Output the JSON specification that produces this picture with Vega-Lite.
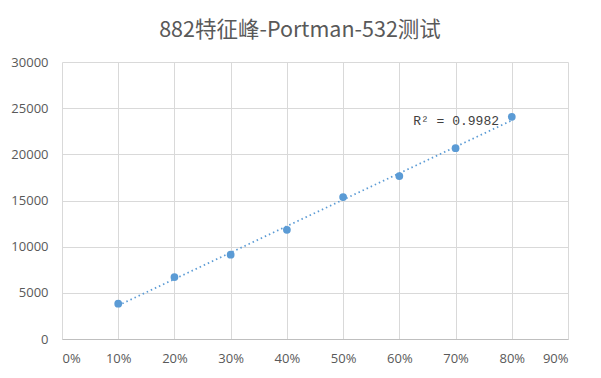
{
  "$schema": "https://vega.github.io/schema/vega-lite/v6.json",
  "autosize": "none",
  "width": 506,
  "height": 277,
  "padding": {"left": 62, "top": 62, "right": 33, "bottom": 39},
  "background": "white",
  "title": {
    "text": "882特征峰-Portman-532测试",
    "font": "Noto Sans CJK SC",
    "fontSize": 21.5,
    "fontWeight": "normal",
    "color": "#595959",
    "anchor": "middle",
    "dx": -15,
    "offset": 15
  },
  "data": {
    "values": [
      {"x": 0.1, "y": 3820},
      {"x": 0.2, "y": 6710},
      {"x": 0.3, "y": 9125},
      {"x": 0.4, "y": 11830},
      {"x": 0.5, "y": 15370},
      {"x": 0.6, "y": 17640},
      {"x": 0.7, "y": 20670},
      {"x": 0.8, "y": 24060}
    ]
  },
  "config": {
    "view": {"stroke": null},
    "axis": {
      "labelFont": "Open Sans",
      "labelFontSize": 13,
      "labelColor": "#595959",
      "gridColor": "#d9d9d9",
      "gridWidth": 1,
      "ticks": false,
      "title": null
    }
  },
  "layer": [
    {
      "transform": [{"regression": "y", "on": "x"}],
      "mark": {"type": "line", "color": "#5B9BD5", "strokeWidth": 1.75, "strokeDash": [1.5, 3]},
      "encoding": {
        "x": {"field": "x", "type": "quantitative"},
        "y": {"field": "y", "type": "quantitative"}
      }
    },
    {
      "mark": {"type": "circle", "color": "#5B9BD5", "size": 60, "opacity": 1},
      "encoding": {
        "x": {
          "field": "x",
          "type": "quantitative",
          "scale": {"domain": [0, 0.9], "nice": false},
          "axis": {
            "values": [0, 0.1, 0.2, 0.3, 0.4, 0.5, 0.6, 0.7, 0.8, 0.9],
            "format": ".0%",
            "labelPadding": 13,
            "domainColor": "#bfbfbf",
            "grid": true
          }
        },
        "y": {
          "field": "y",
          "type": "quantitative",
          "scale": {"domain": [0, 30000], "nice": false},
          "axis": {
            "values": [0, 5000, 10000, 15000, 20000, 25000, 30000],
            "format": "d",
            "labelPadding": 14,
            "domain": false,
            "grid": true
          }
        }
      }
    },
    {
      "data": {"values": [{"x": 0.701, "y": 23600, "label": "R² = 0.9982"}]},
      "mark": {"type": "text", "font": "Liberation Mono", "fontSize": 13, "color": "#404040", "align": "center", "baseline": "middle"},
      "encoding": {
        "x": {"field": "x", "type": "quantitative"},
        "y": {"field": "y", "type": "quantitative"},
        "text": {"field": "label"}
      }
    }
  ]
}
